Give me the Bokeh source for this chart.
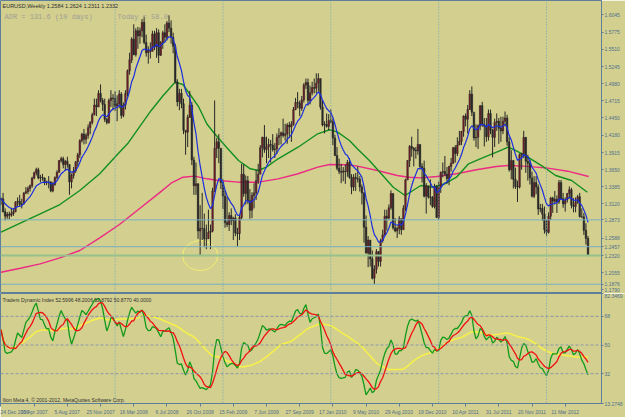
import numpy as np
from bokeh.plotting import figure
from bokeh.layouts import column
from bokeh.models import Range1d, FixedTicker, Span, Label
from bokeh.embed import file_html
from bokeh.resources import INLINE

# ---------------- data (weekly EURUSD, week 0 = 24 Dec 2006) ----------------
CLOSE = [
 # 2007
 1.3200,1.3000,1.2930,1.2960,1.2945,1.2970,1.3000,1.3150,1.3160,1.3110,1.3120,1.3290,1.3310,1.3360,
 1.3400,1.3520,1.3600,1.3650,1.3520,1.3530,1.3520,1.3450,1.3460,1.3460,1.3320,1.3420,1.3530,1.3610,
 1.3790,1.3820,1.3730,1.3780,1.3730,1.3460,1.3560,1.3630,1.3770,1.3880,1.4100,1.4200,1.4120,1.4180,
 1.4300,1.4380,1.4500,1.4650,1.4620,1.4830,1.4720,1.4660,1.4430,1.4380,1.4720,
 # 2008
 1.4760,1.4750,1.4630,1.4670,1.4820,1.4490,1.4650,1.4830,1.5180,1.5350,1.5670,1.5430,1.5800,1.5720,
 1.5800,1.5930,1.5620,1.5460,1.5500,1.5480,1.5750,1.5550,1.5770,1.5420,1.5620,1.5770,1.5700,1.5920,
 1.5840,1.5700,1.5560,1.5010,1.4700,1.4830,1.4670,1.4260,1.4230,1.4460,1.4650,1.3800,1.3400,1.3430,
 1.2700,1.2740,1.2740,1.2580,1.2580,1.2680,1.2700,1.3320,1.3980,1.4080,1.3980,
 # 2009
 1.3450,1.3240,1.2830,1.2800,1.2940,1.2860,1.2900,1.2670,1.2660,1.2910,1.3580,1.3280,1.3480,1.3170,
 1.3020,1.3250,1.3290,1.3480,1.3580,1.3990,1.4150,1.3960,1.4000,1.4040,1.4030,1.3960,1.3970,1.4150,
 1.4180,1.4220,1.4180,1.4200,1.4340,1.4310,1.4350,1.4580,1.4690,1.4680,1.4600,1.4730,1.4960,1.5000,
 1.4720,1.4840,1.4920,1.4910,1.4990,1.5060,1.4620,1.4340,1.4350,1.4320,
 # 2010
 1.4410,1.4390,1.4140,1.3870,1.3670,1.3620,1.3610,1.3630,1.3620,1.3760,1.3530,1.3380,1.3530,1.3510,
 1.3500,1.3380,1.3290,1.2760,1.2360,1.2560,1.2270,1.1970,1.2110,1.2380,1.2230,1.2550,1.2640,1.2930,
 1.2900,1.3060,1.3280,1.2750,1.2700,1.2740,1.2890,1.2720,1.3050,1.3490,1.3790,1.4010,1.3980,1.3950,
 1.3940,1.4040,1.3700,1.3670,1.3240,1.3400,1.3230,1.3220,1.3080,1.3390,
 # 2011
 1.2910,1.3380,1.3610,1.3620,1.3580,1.3510,1.3700,1.3750,1.3990,1.3900,1.4030,1.4090,1.4240,1.4480,
 1.4430,1.4580,1.4820,1.4540,1.4140,1.4150,1.4330,1.4640,1.4350,1.4320,1.4160,1.4520,1.4260,1.4150,
 1.4380,1.4400,1.4290,1.4250,1.4400,1.4450,1.4080,1.3650,1.3790,1.3500,1.3390,1.3380,1.3880,1.3900,
 1.4150,1.3780,1.3750,1.3520,1.3240,1.3450,1.3380,1.3040,1.3050,1.2960,
 # 2012
 1.2720,1.2680,1.2930,1.3210,1.3160,1.3190,1.3150,1.3450,1.3200,1.3120,1.3180,1.3280,1.3340,1.3100,
 1.3080,1.3150,1.3230,1.2920,1.2920,1.2710,1.2584,1.2332,
]
HIGH = [
 1.3220,1.3290,1.3050,1.2995,1.3000,1.3060,1.3050,1.3160,1.3220,1.3260,1.3200,1.3300,1.3380,1.3390,
 1.3420,1.3540,1.3620,1.3680,1.3680,1.3570,1.3585,1.3530,1.3480,1.3550,1.3470,1.3460,1.3545,1.3640,
 1.3800,1.3850,1.3850,1.3800,1.3850,1.3730,1.3590,1.3690,1.3785,1.3910,1.4120,1.4220,1.4280,1.4215,
 1.4350,1.4400,1.4530,1.4750,1.4750,1.4880,1.4970,1.4760,1.4750,1.4450,1.4750,
 1.4880,1.4820,1.4860,1.4800,1.4880,1.4850,1.4690,1.4880,1.5200,1.5460,1.5700,1.5900,1.5840,1.5860,
 1.5850,1.5980,1.6020,1.5740,1.5560,1.5620,1.5800,1.5800,1.5840,1.5820,1.5640,1.5800,1.5900,1.5950,
 1.6040,1.5960,1.5770,1.5600,1.5050,1.4900,1.4900,1.4750,1.4250,1.4500,1.4870,1.4700,1.3850,1.3760,
 1.3440,1.3100,1.3290,1.2970,1.2800,1.3030,1.2800,1.3370,1.4720,1.4140,1.4200,
 1.3980,1.3500,1.3330,1.3230,1.2990,1.3050,1.2920,1.2960,1.2750,1.2960,1.3740,1.3730,1.3560,1.3550,
 1.3350,1.3300,1.3440,1.3650,1.3740,1.4030,1.4160,1.4340,1.4160,1.4130,1.4110,1.4200,1.4060,1.4210,
 1.4290,1.4240,1.4440,1.4360,1.4370,1.4390,1.4400,1.4620,1.4760,1.4850,1.4720,1.4790,1.4990,1.5060,
 1.5060,1.4950,1.5010,1.5060,1.5140,1.5140,1.5010,1.4720,1.4400,1.4520,
 1.4510,1.4580,1.4440,1.4190,1.4000,1.3820,1.3740,1.3690,1.3730,1.3800,1.3830,1.3580,1.3580,1.3600,
 1.3700,1.3550,1.3420,1.3300,1.2940,1.2620,1.2550,1.2400,1.2170,1.2420,1.2390,1.2580,1.2720,1.3030,
 1.3030,1.3110,1.3330,1.3280,1.2900,1.2770,1.2930,1.2890,1.3100,1.3510,1.3800,1.4030,1.4160,1.4000,
 1.4000,1.4280,1.4040,1.3750,1.3790,1.3440,1.3390,1.3500,1.3240,1.3430,
 1.3410,1.3460,1.3620,1.3760,1.3860,1.3690,1.3710,1.3830,1.4000,1.4030,1.4150,1.4250,1.4250,1.4490,
 1.4520,1.4650,1.4880,1.4940,1.4490,1.4350,1.4350,1.4650,1.4700,1.4450,1.4450,1.4580,1.4580,1.4280,
 1.4440,1.4520,1.4450,1.4470,1.4470,1.4550,1.4500,1.4150,1.3950,1.3800,1.3680,1.3480,1.3900,1.3910,
 1.4250,1.4150,1.3880,1.3800,1.3620,1.3550,1.3550,1.3420,1.3120,1.3120,
 1.3080,1.2880,1.2990,1.3230,1.3230,1.3320,1.3250,1.3490,1.3490,1.3290,1.3220,1.3290,1.3390,1.3370,
 1.3210,1.3220,1.3260,1.3290,1.3050,1.2980,1.2820,1.2624,
]
LOW = [
 1.3105,1.2985,1.2865,1.2890,1.2880,1.2920,1.2935,1.2990,1.3080,1.3080,1.3050,1.3110,1.3270,1.3270,
 1.3310,1.3370,1.3500,1.3560,1.3500,1.3455,1.3480,1.3410,1.3410,1.3360,1.3300,1.3300,1.3400,1.3500,
 1.3600,1.3760,1.3670,1.3630,1.3680,1.3260,1.3360,1.3510,1.3600,1.3700,1.3830,1.4070,1.4040,1.4050,
 1.4130,1.4200,1.4350,1.4490,1.4480,1.4640,1.4690,1.4560,1.4390,1.4350,1.4360,
 1.4620,1.4570,1.4560,1.4400,1.4600,1.4440,1.4460,1.4580,1.4780,1.5120,1.5300,1.5420,1.5400,1.5520,
 1.5600,1.5700,1.5590,1.5400,1.5290,1.5370,1.5500,1.5500,1.5380,1.5300,1.5410,1.5520,1.5630,1.5650,
 1.5780,1.5600,1.5450,1.4980,1.4630,1.4570,1.4600,1.4200,1.3880,1.4000,1.4450,1.3720,1.3260,1.3260,
 1.2580,1.2330,1.2560,1.2450,1.2420,1.2580,1.2420,1.2680,1.3300,1.3830,1.3750,
 1.3350,1.3040,1.2750,1.2760,1.2700,1.2790,1.2560,1.2620,1.2460,1.2560,1.2880,1.3230,1.3110,1.3120,
 1.2890,1.2900,1.3050,1.3180,1.3430,1.3600,1.3840,1.3910,1.3750,1.3830,1.3760,1.3930,1.3830,1.3890,
 1.4030,1.4040,1.4150,1.4100,1.4050,1.4140,1.4080,1.4330,1.4570,1.4600,1.4480,1.4560,1.4690,1.4900,
 1.4640,1.4660,1.4800,1.4830,1.4830,1.4860,1.4580,1.4320,1.4210,1.4300,
 1.4260,1.4370,1.4030,1.3860,1.3640,1.3580,1.3440,1.3470,1.3430,1.3540,1.3510,1.3270,1.3320,1.3320,
 1.3450,1.3310,1.3110,1.2520,1.2350,1.2140,1.2150,1.1950,1.1880,1.2040,1.2150,1.2150,1.2520,1.2640,
 1.2710,1.2870,1.3030,1.2720,1.2680,1.2590,1.2650,1.2640,1.2780,1.3010,1.3490,1.3690,1.3850,1.3700,
 1.3820,1.3880,1.3650,1.3450,1.3220,1.2970,1.3200,1.3100,1.3060,1.3050,
 1.2900,1.2870,1.3290,1.3530,1.3550,1.3430,1.3410,1.3620,1.3740,1.3760,1.3860,1.4050,1.4030,1.4160,
 1.4320,1.4210,1.4580,1.4480,1.4100,1.4000,1.3970,1.4260,1.4310,1.4010,1.4080,1.4100,1.4200,1.3840,
 1.4000,1.4250,1.4050,1.4080,1.4200,1.4330,1.4020,1.3620,1.3500,1.3360,1.3350,1.3150,1.3360,1.3650,
 1.3830,1.3600,1.3480,1.3420,1.3220,1.3210,1.3270,1.2950,1.2990,1.2860,
 1.2660,1.2620,1.2660,1.2870,1.2980,1.3110,1.2980,1.3120,1.3180,1.3060,1.3000,1.3140,1.3200,1.3050,
 1.2990,1.2990,1.3120,1.2910,1.2900,1.2640,1.2490,1.2311,
]
FIRST_OPEN = 1.3185

# long moving averages (week index, price)
PINK_WEEK = [0,9.3,18.9,28.4,38,47.6,57.1,66.7,76.2,82,87.7,93.4,99.2,104.9,114.5,124.1,133.6,143.2,
             152.7,158.4,166.1,171.8,181.4,191,196.7,202.4,210.1,219.6,229.2,238.8,244.5,252.1,
             263.6,273.2,283.3]
PINK_MA   = [1.2062,1.2124,1.2192,1.2285,1.2398,1.2595,1.2801,1.3044,1.3286,1.3440,1.3533,1.3549,
             1.3508,1.3482,1.3456,1.3456,1.3508,1.3586,1.3688,1.3730,1.3725,1.3704,1.3637,1.3559,
             1.3533,1.3523,1.3544,1.3586,1.3648,1.3699,1.3714,1.3704,1.3673,1.3626,1.3544]
GREEN_WEEK = [0,9.3,18.9,28.4,38,47.6,57.1,61,66.7,72.4,78.2,83.9,87.7,91.5,95.4,99.2,103,108.7,
              114.5,120.2,124.1,127.9,133.6,143.2,152.7,158.4,162.3,168,171.8,177.6,183.3,189.1,
              194.8,198.6,202.4,208.2,213.9,219.6,225.4,233,240.7,244.5,248.3,254,261.7,267.4,
              275.1,282.7]
GREEN_MA   = [1.2682,1.2821,1.2966,1.3110,1.3327,1.3586,1.3920,1.4050,1.4307,1.4566,1.4798,1.5004,
              1.4968,1.4798,1.4617,1.4360,1.4205,1.3997,1.3792,1.3663,1.3637,1.3688,1.3818,1.3997,
              1.4205,1.4267,1.4230,1.4101,1.3973,1.3792,1.3586,1.3378,1.3250,1.3327,1.3405,1.3378,
              1.3431,1.3533,1.3740,1.3843,1.3946,1.3997,1.3946,1.3843,1.3688,1.3559,1.3482,1.3301]

DATE_WEEK = [0,16,32,48,64,80,96,112,128,144,160,176,192,208,224,240,256,272]
DATE_LABELS = ["24 Dec 2006","15 Apr 2007","5 Aug 2007","25 Nov 2007","16 Mar 2008","6 Jul 2008",
               "26 Oct 2008","15 Feb 2009","7 Jun 2009","27 Sep 2009","17 Jan 2010","9 May 2010",
               "29 Aug 2010","19 Dec 2010","10 Apr 2011","31 Jul 2011","20 Nov 2011","11 Mar 2012"]
PRICE_TICKS = [1.1790,1.2055,1.2588,1.3120,1.3385,1.3650,1.3915,1.4180,1.4450,1.4715,1.4980,
               1.5245,1.5510,1.5775,1.6045]
YEAR_SEP_WEEK = [55,107,159,211,263]
LEVELS = [1.2873,1.2457,1.1876]
BID = 1.2320
TDI_LEVELS = [68,50,32]
TDI_RANGE = (13.2748, 82.3469)
ELLIPSE_WEEK, ELLIPSE_PRICE, ELLIPSE_W, ELLIPSE_H = 96, 1.232, 17, 0.046

# ---------------- derived ----------------
c = np.array(CLOSE); h = np.array(HIGH); l = np.array(LOW)
o = np.array([FIRST_OPEN] + CLOSE[:-1])
N = len(c)
wk = np.arange(N)

def ema(a, n):
    out = np.empty(len(a)); out[0] = a[0]; k = 2.0/(n+1)
    for i in range(1, len(a)):
        out[i] = out[i-1] + k*(a[i]-out[i-1])
    return out

def sma(a, n):
    return np.array([a[max(0, i-n+1):i+1].mean() for i in range(len(a))])

def rsi(a, n=13):
    d = np.diff(a); g = np.where(d > 0, d, 0.0); ls = np.where(d < 0, -d, 0.0)
    ag = g[:n].mean(); al = ls[:n].mean()
    out = np.empty(len(a)); out[0] = 100 - 100/(1 + ag/al)
    for i in range(1, len(a)):
        ag = (ag*(n-1) + g[i-1])/n; al = (al*(n-1) + ls[i-1])/n
        out[i] = 100 - 100/(1 + ag/max(al, 1e-9))
    return out

blue = ema(c, 10)
r = rsi(c, 13)
tdi_green = sma(r, 2); tdi_red = sma(r, 7); tdi_yellow = sma(r, 34)

# ---------------- style ----------------
BG = "#D3CF8F"
FRAME = "#5F7F98"
TXT = "#4F6F8C"
FONT = "Liberation Sans"
PXW = 2.0846
X0, X1 = -0.5/PXW, (604 - 0.5)/PXW
PPU = 646.0
P_LO, P_HI = 1.1790 - 3.7/PPU, 1.1790 + 289.3/PPU

p1 = figure(width=625, height=293, output_backend="svg", toolbar_location=None,
            x_range=Range1d(X0, X1), y_range=Range1d(P_LO, P_HI),
            x_axis_type=None, y_axis_location="right",
            min_border_left=0, min_border_top=0, min_border_bottom=0, min_border_right=21)
p2 = figure(width=625, height=124, output_backend="svg", toolbar_location=None,
            x_range=p1.x_range, y_range=Range1d(*TDI_RANGE), y_axis_location="right",
            min_border_left=0, min_border_top=0, min_border_bottom=12, min_border_right=21)

for p in (p1, p2):
    p.background_fill_color = BG
    p.border_fill_color = BG
    p.outline_line_color = FRAME
    p.grid.visible = False
    for ax in p.yaxis:
        ax.axis_line_color = FRAME
        ax.major_tick_line_color = FRAME
        ax.minor_tick_line_color = None
        ax.major_tick_in = 0
        ax.major_tick_out = 2
        ax.major_label_standoff = 1
        ax.major_label_text_font = FONT
        ax.major_label_text_font_size = "5px"
        ax.major_label_text_color = TXT
    for w in YEAR_SEP_WEEK:
        p.add_layout(Span(location=w, dimension="height", line_color="#6FA0C0",
                          line_dash="1 2", line_width=1))

# price axis (level values are shown on the scale too)
p1.yaxis.ticker = FixedTicker(ticks=PRICE_TICKS + LEVELS + [BID])
p1.yaxis.major_label_overrides = {t: f"{t:.4f}" for t in PRICE_TICKS + LEVELS + [BID]}

# level lines
for lv in LEVELS:
    p1.add_layout(Span(location=lv, dimension="width", line_color="#78AFC0", line_width=1))
p1.add_layout(Span(location=BID, dimension="width", line_color="#96C08C", line_width=2))

# ellipse annotation
p1.ellipse(x=[ELLIPSE_WEEK], y=[ELLIPSE_PRICE], width=ELLIPSE_W, height=ELLIPSE_H,
           fill_color=None, line_color="#F2EE70", line_width=1)

# moving averages
p1.line(PINK_WEEK, PINK_MA, line_color="#EC2A84", line_width=1.4)
p1.line(GREEN_WEEK, GREEN_MA, line_color="#12901E", line_width=1.4)

# candles
up = c >= o
p1.segment(x0=wk, y0=l, x1=wk, y1=h, line_color="#262626", line_width=1)
p1.vbar(x=wk[up], width=0.75, top=c[up], bottom=o[up], fill_color="#7A1C28",
        line_color="#262626", line_width=0.5)
p1.vbar(x=wk[~up], width=0.75, top=o[~up], bottom=c[~up], fill_color="#2A2A2A",
        line_color="#262626", line_width=0.5)
p1.line(wk, blue, line_color="#1A2EE0", line_width=1.2)

# texts
p1.add_layout(Label(x=X0, y=P_HI, x_offset=2, y_offset=-2, text_baseline="top",
                    text="EURUSD,Weekly  1.2584 1.2624 1.2311 1.2332",
                    text_font=FONT, text_font_size="5.5px", text_color="#303030"))
p1.add_layout(Label(x=X0, y=P_HI, x_offset=4, y_offset=-12, text_baseline="top",
                    text="ADR = 131.6  (10 days)", text_font="Liberation Mono",
                    text_font_size="7px", text_color="#A09E94"))
p1.add_layout(Label(x=X0, y=P_HI, x_offset=117, y_offset=-12, text_baseline="top",
                    text="Today = 58.0", text_font="Liberation Mono",
                    text_font_size="7px", text_color="#A09E94"))

# ---------------- indicator ----------------
for lv in TDI_LEVELS:
    p2.add_layout(Span(location=lv, dimension="width", line_color="#8A98A8",
                       line_dash="3 2", line_width=1))
p2.yaxis.ticker = FixedTicker(ticks=list(TDI_LEVELS) + list(TDI_RANGE))
p2.yaxis.major_label_overrides = {68: "68", 50: "50", 32: "32",
                                  TDI_RANGE[0]: f"{TDI_RANGE[0]:.4f}",
                                  TDI_RANGE[1]: f"{TDI_RANGE[1]:.4f}"}
p2.line(wk, tdi_yellow, line_color="#F6F04A", line_width=1.6)
p2.line(wk, tdi_green, line_color="#129A1A", line_width=1.3)
p2.line(wk, tdi_red, line_color="#F01010", line_width=1.3)

p2.xaxis.ticker = FixedTicker(ticks=DATE_WEEK)
p2.xaxis.major_label_overrides = {w: s for w, s in zip(DATE_WEEK, DATE_LABELS)}
p2.xaxis.major_label_text_align = "left"
p2.xaxis.major_label_text_font = FONT
p2.xaxis.major_label_text_font_size = "5px"
p2.xaxis.major_label_text_color = TXT
p2.xaxis.major_label_standoff = 2
p2.xaxis.axis_line_color = FRAME
p2.xaxis.major_tick_line_color = FRAME
p2.xaxis.major_tick_in = 0
p2.xaxis.major_tick_out = 3
p2.xaxis.minor_tick_line_color = None

p2.add_layout(Label(x=X0, y=TDI_RANGE[1], x_offset=2, y_offset=-3, text_baseline="top",
                    text="Traders Dynamic Index 52.5996 48.2006 52.8792 50.8770 40.0000",
                    text_font=FONT, text_font_size="5px", text_color="#303030"))
p2.add_layout(Label(x=X0, y=TDI_RANGE[0], x_offset=2, y_offset=1, text_baseline="bottom",
                    text="Ilion Meta 4, \u00a9 2001-2012, MetaQuotes Software Corp.",
                    text_font=FONT, text_font_size="5px", text_color="#303030"))

layout = column(p1, p2, spacing=0)
open("out.html", "w").write(file_html(layout, INLINE))
